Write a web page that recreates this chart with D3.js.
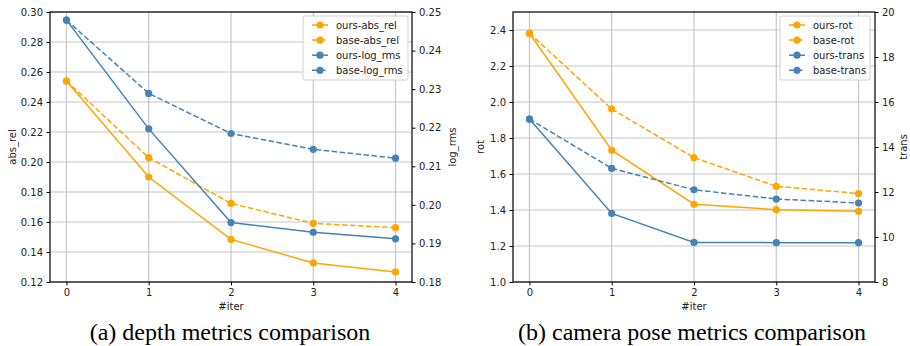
<!DOCTYPE html>
<html><head><meta charset="utf-8">
<script src="https://cdn.jsdelivr.net/npm/d3@7"></script>
<style>body{margin:0;background:#fff}svg{display:block}</style>
</head><body><svg id="c" width="910" height="346"></svg>
<script>
const iters = [0, 1, 2, 3, 4];
// panel (a)
const oursAbsRel = [0.254, 0.190, 0.1484, 0.1327, 0.1267];
const baseAbsRel = [0.254, 0.2029, 0.1724, 0.1591, 0.1562];
const oursLogRms = [0.2479, 0.2197, 0.1954, 0.1929, 0.1912];
const baseLogRms = [0.2479, 0.2289, 0.2185, 0.2144, 0.2121];
const absRelTicks = [0.12, 0.14, 0.16, 0.18, 0.20, 0.22, 0.24, 0.26, 0.28, 0.30];
const logRmsTicks = [0.18, 0.19, 0.20, 0.21, 0.22, 0.23, 0.24, 0.25];
// panel (b)
const oursRot = [2.382, 1.732, 1.432, 1.402, 1.393];
const baseRot = [2.382, 1.961, 1.691, 1.532, 1.491];
const oursTrans = [15.24, 11.05, 9.76, 9.75, 9.75];
const baseTrans = [15.24, 13.05, 12.10, 11.69, 11.51];
const rotTicks = [1.0, 1.2, 1.4, 1.6, 1.8, 2.0, 2.2, 2.4];
const transTicks = [8, 10, 12, 14, 16, 18, 20];

const ORANGE = "#FFA500", BLUE = "#4682B4";
const svg = d3.select("#c");
const FONT = "'DejaVu Sans', sans-serif";
const SERIF = "'Liberation Serif', 'Times New Roman', serif";

function panel(o) {
  const g = svg.append("g");
  const x = d3.scaleLinear().domain([-0.2, 4.2]).range([o.x0, o.x1]);
  const yL = d3.scaleLinear().domain(o.yLdom).range([o.y1, o.y0]);
  const yR = d3.scaleLinear().domain(o.yRdom).range([o.y1, o.y0]);
  // grid
  g.append("g").selectAll("line").data(iters).join("line")
    .attr("x1", d => x(d)).attr("x2", d => x(d)).attr("y1", o.y0).attr("y2", o.y1)
    .attr("stroke", "#c6c6c6").attr("stroke-width", 1.2);
  g.append("g").selectAll("line").data(o.yLticks).join("line")
    .attr("x1", o.x0).attr("x2", o.x1).attr("y1", d => yL(d)).attr("y2", d => yL(d))
    .attr("stroke", "#c6c6c6").attr("stroke-width", 1.2);
  // axes
  const ax = (sel, axis) => {
    sel.call(axis);
    sel.attr("font-family", FONT).attr("font-size", 10);
    sel.select(".domain").remove();
    sel.selectAll(".tick line").attr("stroke", "#000").attr("stroke-width", 1);
    sel.selectAll(".tick text").style("font-family", FONT).attr("font-size", 10).attr("fill", "#222");
  };
  g.append("g").attr("transform", `translate(0,${o.y1})`)
    .call(s => ax(s, d3.axisBottom(x).tickValues(iters).tickFormat(d3.format("d")).tickSize(3.5).tickPadding(3)));
  g.append("g").attr("transform", `translate(${o.x0},0)`)
    .call(s => ax(s, d3.axisLeft(yL).tickValues(o.yLticks).tickFormat(d3.format(o.fmtL)).tickSize(3.5).tickPadding(3.5)));
  g.append("g").attr("transform", `translate(${o.x1},0)`)
    .call(s => ax(s, d3.axisRight(yR).tickValues(o.yRticks).tickFormat(d3.format(o.fmtR)).tickSize(3.5).tickPadding(3.5)));
  g.append("rect").attr("x", o.x0).attr("y", o.y0).attr("width", o.x1 - o.x0).attr("height", o.y1 - o.y0)
    .attr("fill", "none").attr("stroke", "#000").attr("stroke-width", 1.2);
  // series
  o.series.forEach(s => {
    const y = s.right ? yR : yL;
    const line = d3.line().x((d, i) => x(iters[i])).y(d => y(d));
    g.append("path").datum(s.values).attr("d", line).attr("fill", "none")
      .attr("stroke", s.color).attr("stroke-width", 1.5)
      .attr("stroke-dasharray", s.dash ? "5.5,2.5" : null);
    g.append("g").selectAll("circle").data(s.values).join("circle")
      .attr("cx", (d, i) => x(iters[i])).attr("cy", d => y(d)).attr("r", 3.6).attr("fill", s.color);
  });
  // labels
  const txt = sel => sel.style("font-family", FONT).attr("font-size", 10).attr("fill", "#222");
  g.append("text").attr("x", (o.x0 + o.x1) / 2).attr("y", 310).attr("text-anchor", "middle")
    .call(txt).text("#iter");
  g.append("text").attr("transform", `translate(${o.lxL},${(o.y0 + o.y1) / 2}) rotate(-90)`)
    .attr("text-anchor", "middle").attr("dy", "0.35em").call(txt).text(o.labelL);
  g.append("text").attr("transform", `translate(${o.lxR},${(o.y0 + o.y1) / 2}) rotate(-90)`)
    .attr("text-anchor", "middle").attr("dy", "0.35em").call(txt).text(o.labelR);
  // legend
  const lg = g.append("g");
  lg.append("rect").attr("x", o.leg.x).attr("y", 16).attr("width", o.leg.w).attr("height", 64)
    .attr("rx", 2).attr("fill", "#fff").attr("fill-opacity", 0.85).attr("stroke", "#d0d0d0").attr("stroke-width", 1);
  o.series.forEach((s, i) => {
    const yy = 25 + i * 15.1;
    const lx = o.leg.x + 9;
    lg.append("line").attr("x1", lx).attr("x2", lx + 16).attr("y1", yy).attr("y2", yy)
      .attr("stroke", s.color).attr("stroke-width", 1.5).attr("stroke-dasharray", s.dash ? "5.5,2.5" : null);
    lg.append("circle").attr("cx", lx + 8).attr("cy", yy).attr("r", 3.6).attr("fill", s.color);
    lg.append("text").attr("x", lx + 24).attr("y", yy).attr("dy", "0.35em").call(txt).text(s.name);
  });
  // caption
  svg.append("text").attr("x", o.capX).attr("y", 340).attr("text-anchor", "middle")
    .style("font-family", SERIF).attr("font-size", 24).attr("fill", "#000")
    .text(o.caption);
}

panel({
  x0: 50, x1: 412, y0: 12, y1: 282,
  yLdom: [0.12, 0.30], yRdom: [0.18, 0.25], yLticks: absRelTicks, yRticks: logRmsTicks,
  fmtL: ".2f", fmtR: ".2f", labelL: "abs_rel", labelR: "log_rms", lxL: 12, lxR: 452,
  leg: { x: 303, w: 105 }, capX: 230, caption: "(a) depth metrics comparison",
  series: [
    { name: "ours-abs_rel", values: oursAbsRel, color: ORANGE, dash: false, right: false },
    { name: "base-abs_rel", values: baseAbsRel, color: ORANGE, dash: true, right: false },
    { name: "ours-log_rms", values: oursLogRms, color: BLUE, dash: false, right: true },
    { name: "base-log_rms", values: baseLogRms, color: BLUE, dash: true, right: true }
  ]
});
panel({
  x0: 513, x1: 875, y0: 12, y1: 282,
  yLdom: [1.0, 2.5], yRdom: [8, 20], yLticks: rotTicks, yRticks: transTicks,
  fmtL: ".1f", fmtR: "d", labelL: "rot", labelR: "trans", lxL: 480, lxR: 903,
  leg: { x: 780, w: 90 }, capX: 692, caption: "(b) camera pose metrics comparison",
  series: [
    { name: "ours-rot", values: oursRot, color: ORANGE, dash: false, right: false },
    { name: "base-rot", values: baseRot, color: ORANGE, dash: true, right: false },
    { name: "ours-trans", values: oursTrans, color: BLUE, dash: false, right: true },
    { name: "base-trans", values: baseTrans, color: BLUE, dash: true, right: true }
  ]
});
</script></body></html>
